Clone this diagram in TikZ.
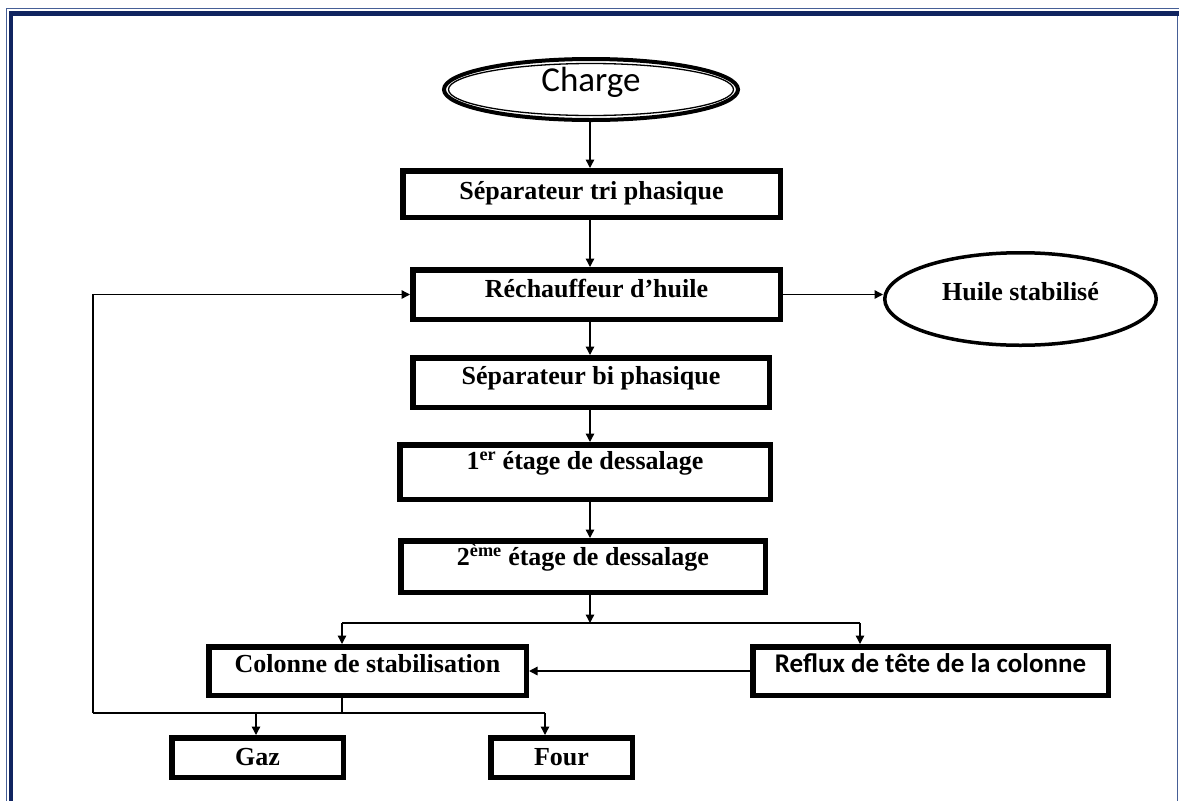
\documentclass[tikz,border=0pt]{standalone}
\usepackage{fontspec}
\setmainfont{Liberation Serif}
\newfontfamily\calibri{Carlito}
\usetikzlibrary{arrows.meta,shapes.geometric}
\definecolor{navy}{RGB}{16,36,96}
\definecolor{navythin}{RGB}{70,95,150}
\begin{document}
\begin{tikzpicture}[x=1pt,y=-1pt,line join=miter,
  box/.style={draw, rectangle, line width=5.5pt, inner sep=0pt,
    font=\bfseries\fontsize{26}{30}\selectfont, text height=15pt},
  oval/.style={draw, ellipse, inner sep=0pt},
  arr/.style={-{Triangle[length=8.5pt,width=8.5pt]}, line width=1.4pt},
  conn/.style={line width=1.4pt}]
\useasboundingbox (0,0) rectangle (1179,801);
% frame
\draw[navythin, line width=1.2pt] (6.5,801) -- (6.5,8.5) -- (1179,8.5);
\draw[navy, line width=4.5pt] (11,801) -- (11,13.5) -- (1179,13.5);
\draw[navythin, line width=1.2pt] (1177.5,15.75) -- (1177.5,801);
% nodes
\node[oval, line width=4pt, minimum width=294pt, minimum height=61pt,
  font=\calibri\fontsize{35}{40}\selectfont, text height=22pt, text depth=18pt]
  (charge) at (591,89.5) {Charge};
\draw[line width=1.3pt] (charge.center) ellipse [x radius=142.5pt, y radius=26pt];
\node[box, minimum width=377.5pt, minimum height=46.5pt, text depth=4pt] (septri) at (591.5,194) {Séparateur tri phasique};
\node[box, minimum width=367.5pt, minimum height=49.5pt, text depth=9pt] (rech) at (596.5,294.5) {Réchauffeur d’huile};
\node[oval, line width=3.5pt, minimum width=271.5pt, minimum height=92.5pt,
  font=\bfseries\fontsize{26}{30}\selectfont, text height=15pt, text depth=12pt]
  (huile) at (1020.5,299) {Huile stabilisé};
\node[box, minimum width=356.5pt, minimum height=49.5pt, text depth=11pt] (sepbi) at (591,382.5) {Séparateur bi phasique};
\node[box, minimum width=370.5pt, minimum height=54.5pt, text depth=20pt] (etage1) at (585,472) {1\textsuperscript{er} étage de dessalage};
\node[box, minimum width=364.5pt, minimum height=51.5pt, text depth=17pt] (etage2) at (583,566.5) {2\textsuperscript{ème} étage de dessalage};
\node[box, minimum width=317.5pt, minimum height=48.5pt, text depth=12pt] (colonne) at (367.5,671) {Colonne de stabilisation};
\node[box, minimum width=355.5pt, minimum height=48.5pt, text depth=12pt,
  font=\calibri\bfseries\fontsize{27}{30}\selectfont] (reflux) at (930.5,671) {Reflux de tête de la colonne};
\node[box, minimum width=171.5pt, minimum height=39.5pt, text depth=0pt] (gaz) at (257.5,757.5) {Gaz};
\node[box, minimum width=141.5pt, minimum height=39.5pt, text depth=0pt] (four) at (561.5,757.5) {Four};
% coordinates
\coordinate (axis) at (590,0);
\coordinate (split) at (590,623);
\coordinate (sl) at (342,623);
\coordinate (sr) at (860,623);
\coordinate (jb) at (342,713);
\coordinate (fb) at (93,713);
\coordinate (gb) at (256,713);
\coordinate (fo) at (545,713);
% connectors
\draw[arr] (charge.south -| axis) -- (septri.north -| axis);
\draw[arr] (septri.south -| axis) -- (rech.north -| axis);
\draw[arr] (rech.south -| axis) -- (sepbi.north -| axis);
\draw[arr] (sepbi.south -| axis) -- (etage1.north -| axis);
\draw[arr] (etage1.south -| axis) -- (etage2.north -| axis);
\draw[arr] (etage2.south -| axis) -- (split);
\draw[arr] (rech.east) -- (rech.east -| huile.west);
\draw[conn] (sl) -- (sr);
\draw[arr] (sl) -- (sl |- colonne.north);
\draw[arr] (sr) -- (sr |- reflux.north);
\draw[arr] (reflux.west) -- (colonne.east);
\draw[conn] (colonne.south -| jb) -- (jb);
\draw[conn] (fb) -- (fo);
\draw[arr] (gb) -- (gb |- gaz.north);
\draw[arr] (fo) -- (fo |- four.north);
\draw[arr] (fb) |- (rech.west);
\end{tikzpicture}
\end{document}
